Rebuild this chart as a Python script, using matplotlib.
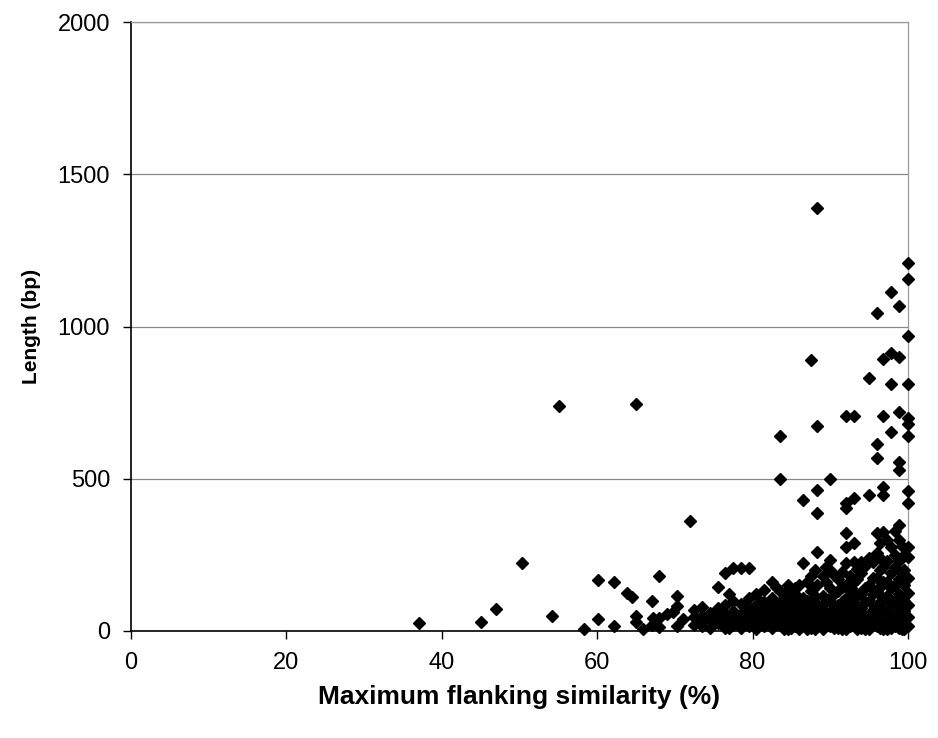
import matplotlib.pyplot as plt

# outlying points, 35-72 % similarity
sim_low = [37, 45, 47, 50.3, 54.2, 55.1, 58.3, 60.1, 60.1, 62.2, 62.2, 63.8, 64.5,
           65, 65, 65, 65.9, 67, 67, 67.2, 68, 68, 68, 69, 69.8, 70.3, 70.3, 70.3, 71, 72]
len_low = [26, 30, 72, 223, 49, 739, 7, 167, 38, 161, 16, 125, 112,
           745, 49, 30, 7, 98, 20, 43, 181, 43, 13, 55, 62, 115, 82, 16, 40, 362]

# dense part, one column of lengths per similarity value
sim_cols = [72.5, 73.5, 74.5, 75.5, 76.5, 77.5, 78.5, 79.5, 80.5, 81.5, 82.5, 83.5,
            84.5, 85.5, 86.5, 87.5, 88.3, 89, 90, 91, 92, 93, 94, 95, 96, 96.8,
            97.8, 98.8, 99.5, 100,
            84, 85, 86, 87, 88, 89.5, 90.5, 91.5, 92.5, 93.5, 94.5, 95.5, 96.4,
            97.3, 98.3, 99.2, 77, 79, 81, 83]
len_cols = [
    [20, 45, 70],
    [15, 50, 80, 30],
    [40, 10, 60],
    [25, 75, 50, 145],
    [10, 55, 85, 35, 190],
    [20, 65, 40, 207, 100],
    [30, 90, 55, 10, 207],
    [15, 45, 70, 110, 207],
    [25, 60, 120, 5, 85],
    [40, 95, 135, 15, 70],
    [10, 55, 80, 160, 30, 110],
    [20, 45, 130, 70, 95, 640, 500],
    [5, 35, 60, 100, 150, 80],
    [15, 50, 120, 85, 140, 30],
    [25, 65, 95, 110, 223, 430, 40],
    [10, 45, 75, 130, 181, 890, 60],
    [20, 55, 90, 150, 260, 388, 463, 673, 1390],
    [5, 35, 70, 115, 180, 30],
    [15, 45, 100, 140, 200, 233, 500, 60],
    [25, 60, 85, 130, 170, 10],
    [5, 40, 110, 150, 223, 276, 322, 405, 420, 706, 70],
    [20, 55, 90, 160, 227, 289, 437, 706, 130],
    [10, 35, 75, 120, 190, 227, 60],
    [25, 50, 100, 150, 240, 447, 831, 5],
    [15, 45, 80, 130, 175, 256, 322, 568, 614, 1044, 60],
    [5, 35, 70, 110, 210, 325, 447, 473, 706, 893, 160],
    [20, 55, 90, 140, 190, 276, 653, 811, 912, 1113, 10],
    [10, 40, 75, 120, 170, 230, 299, 348, 529, 555, 719, 900, 1067],
    [5, 30, 65, 100, 150, 200, 250],
    [15, 45, 85, 125, 175, 243, 276, 421, 460, 640, 680, 700, 811, 969, 1156, 1208],
    [30, 70, 120, 5],
    [10, 45, 95, 130, 65],
    [35, 75, 105, 150, 5],
    [20, 55, 100, 160, 5],
    [40, 80, 115, 200, 5],
    [25, 60, 95, 160, 210],
    [10, 40, 75, 120, 185],
    [30, 55, 95, 145, 195, 5],
    [15, 65, 100, 130, 180],
    [40, 80, 115, 170, 205, 5],
    [20, 50, 95, 140, 215, 5],
    [35, 70, 120, 175, 225],
    [10, 55, 95, 145, 200, 240, 290],
    [30, 70, 115, 160, 230, 300, 5],
    [15, 50, 100, 150, 210, 250, 330],
    [25, 65, 110, 160, 190, 280, 5],
    [10, 120],
    [30, 90],
    [55, 100],
    [25, 145],
]

xs = list(sim_low)
ys = list(len_low)
for s, col in zip(sim_cols, len_cols):
    xs += [s] * len(col)
    ys += col

plt.rcParams['font.family'] = ['Liberation Sans', 'DejaVu Sans']

fig = plt.figure(figsize=(9.38, 7.38), dpi=100)
ax = fig.add_axes([0.1397, 0.145, 0.968 - 0.1397, 0.970 - 0.145])

ax.plot(xs, ys, linestyle='none', marker='D', markersize=5.8, color='black', zorder=3, clip_on=False)

ax.set_xlim(0, 100)
ax.set_ylim(0, 2000)
ax.set_xticks([0, 20, 40, 60, 80, 100])
ax.set_yticks([0, 500, 1000, 1500, 2000])
ax.yaxis.grid(True, color='#888888', linewidth=0.9)
ax.set_axisbelow(True)

for side in ['left', 'bottom']:
    ax.spines[side].set_color('black')
    ax.spines[side].set_linewidth(1.2)
for side in ['top', 'right']:
    ax.spines[side].set_color('#999999')
    ax.spines[side].set_linewidth(0.9)

ax.tick_params(direction='out', length=6, width=1, labelsize=17, pad=9)
ax.set_xlabel('Maximum flanking similarity (%)', fontsize=19, fontweight='bold', labelpad=8)
ax.set_ylabel('Length (bp)', fontsize=15, fontweight='bold', labelpad=12)

plt.savefig('out.png', dpi=100)
